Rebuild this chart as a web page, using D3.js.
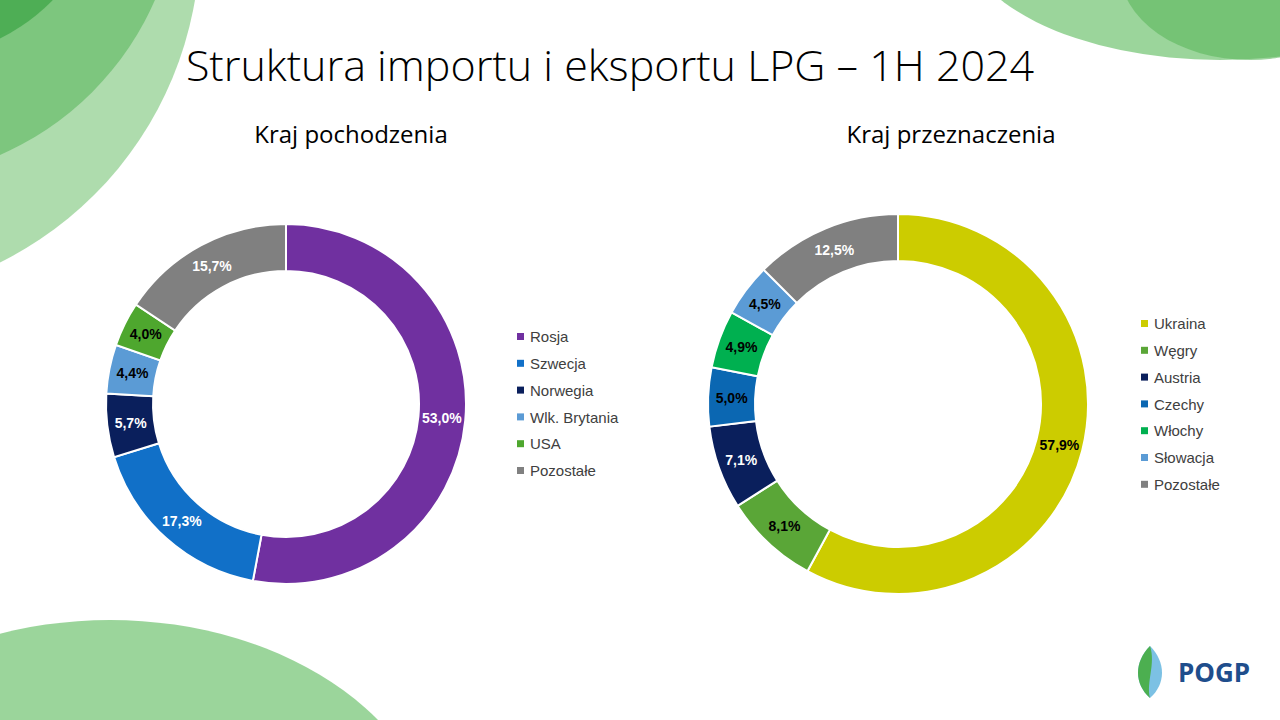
<!DOCTYPE html>
<html>
<head>
<meta charset="utf-8">
<script src="https://cdn.jsdelivr.net/npm/d3@7"></script>
<style>
  body { margin: 0; background: #fff; }
  svg { display: block; font-family: "Liberation Sans", "DejaVu Sans", sans-serif; }
</style>
</head>
<body>
<script>
// data
const importCountries = ["Rosja", "Szwecja", "Norwegia", "Wlk. Brytania", "USA", "Pozostałe"];
const importValues = [53.0, 17.3, 5.7, 4.4, 4.0, 15.7];
const importColors = ["#7030a0", "#1170c8", "#0a1f5c", "#5b9bd5", "#4ea72e", "#808080"];
const importLabelColors = ["#fff", "#fff", "#fff", "#000", "#000", "#fff"];

const exportCountries = ["Ukraina", "Węgry", "Austria", "Czechy", "Włochy", "Słowacja", "Pozostałe"];
const exportValues = [57.9, 8.1, 7.1, 5.0, 4.9, 4.5, 12.5];
const exportColors = ["#cccc00", "#5aa637", "#0a1f5c", "#0b67b2", "#00b050", "#5b9bd5", "#808080"];
const exportLabelColors = ["#000", "#000", "#fff", "#000", "#000", "#000", "#fff"];

const svg = d3.select("body").append("svg").attr("width", 1280).attr("height", 720);

// background decoration
const deco = svg.append("g");
deco.append("circle").attr("cx", -160).attr("cy", -60).attr("r", 360).attr("fill", "#6cc06a").attr("opacity", 0.55);
deco.append("circle").attr("cx", -120).attr("cy", -120).attr("r", 300).attr("fill", "#4caf50").attr("opacity", 0.5);
deco.append("circle").attr("cx", -90).attr("cy", -140).attr("r", 200).attr("fill", "#2e9e3a").attr("opacity", 0.6);
deco.append("ellipse").attr("cx", 110).attr("cy", 860).attr("rx", 330).attr("ry", 240).attr("fill", "#7ac77a").attr("opacity", 0.75);
deco.append("ellipse").attr("cx", 1220).attr("cy", -70).attr("rx", 260).attr("ry", 130).attr("fill", "#7ac77a").attr("opacity", 0.75);
deco.append("ellipse").attr("cx", 1250).attr("cy", -30).attr("rx", 130).attr("ry", 90).attr("fill", "#5cb85c").attr("opacity", 0.6);

svg.append("text").attr("x", 610).attr("y", 81).attr("text-anchor", "middle")
  .attr("font-size", 43).attr("font-family", "Open Sans, sans-serif").attr("font-weight", 300)
  .text("Struktura importu i eksportu LPG – 1H 2024");

function donut(cx, cy, rOut, rIn, names, values, colors, labelColors, title, titleX, legX, legY) {
  const g = svg.append("g").attr("transform", `translate(${cx},${cy})`);
  const pie = d3.pie().sort(null).value(d => d)(values);
  const arc = d3.arc().innerRadius(rIn).outerRadius(rOut);
  g.selectAll("path").data(pie).join("path")
    .attr("d", arc).attr("fill", (d, i) => colors[i])
    .attr("stroke", "#fff").attr("stroke-width", 2);
  g.selectAll("text").data(pie).join("text")
    .attr("transform", d => `translate(${arc.centroid(d)})`)
    .attr("text-anchor", "middle").attr("dy", "0.35em")
    .attr("font-size", 14).attr("font-weight", "bold")
    .attr("fill", (d, i) => labelColors[i])
    .text(d => d3.format(".1f")(d.data).replace(".", ",") + "%");

  svg.append("text").attr("x", titleX).attr("y", 143).attr("text-anchor", "middle")
    .attr("font-size", 24).attr("font-family", "Open Sans, sans-serif").text(title);

  const leg = svg.append("g").attr("transform", `translate(${legX},${legY})`);
  const item = leg.selectAll("g").data(names).join("g")
    .attr("transform", (d, i) => `translate(0,${i * 26.8})`);
  item.append("rect").attr("x", 0).attr("y", -4).attr("width", 7).attr("height", 7)
    .attr("fill", (d, i) => colors[i]);
  item.append("text").attr("x", 13).attr("dy", "0.35em").attr("font-size", 15)
    .attr("fill", "#404040").text(d => d);
}

donut(286, 404, 180, 133, importCountries, importValues, importColors, importLabelColors,
  "Kraj pochodzenia", 351, 517, 337);
donut(898, 404, 190, 143, exportCountries, exportValues, exportColors, exportLabelColors,
  "Kraj przeznaczenia", 951, 1141, 324);

// logo
const logo = svg.append("g").attr("transform", "translate(1150,672)");
logo.append("path").attr("d", "M0,-26 C-16,-10 -16,12 0,26 C16,12 16,-10 0,-26 Z").attr("fill", "#7cc1e4");
logo.append("path").attr("d", "M0,-26 C-16,-10 -16,12 0,26 C-4,10 6,-8 0,-26 Z").attr("fill", "#4caf50");
svg.append("text").attr("x", 1178).attr("y", 682).attr("font-size", 26).attr("font-weight", "bold")
  .attr("fill", "#1f4e8c").attr("font-family", "Open Sans, sans-serif").text("POGP");
</script>
</body>
</html>
